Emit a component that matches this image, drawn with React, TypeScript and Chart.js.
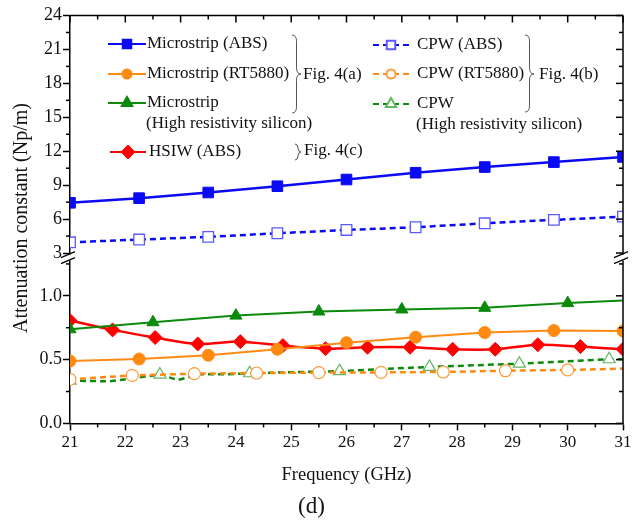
import React, { useEffect, useRef } from 'react';
import { Chart, registerables } from 'chart.js';
import { drawPoint } from 'chart.js/helpers';

Chart.register(...registerables);

const FONT = '"Liberation Serif", "Times New Roman", serif';

// ---------- data ----------
const freqMS = [21, 22.25, 23.5, 24.75, 26, 27.25, 28.5, 29.75, 31];
const microstripABS = [7.44, 7.85, 8.35, 8.91, 9.5, 10.1, 10.6, 11.04, 11.5];
const cpwABS = [3.95, 4.19, 4.43, 4.75, 5.04, 5.28, 5.63, 5.93, 6.22];
const microstripRT = [0.489, 0.505, 0.534, 0.581, 0.633, 0.676, 0.712, 0.728, 0.725];

const freqMSHRS = [21, 22.5, 24, 25.5, 27, 28.5, 30, 31];
const microstripHRS = [0.738, 0.793, 0.845, 0.877, 0.893, 0.906, 0.943, 0.963];

const freqHSIW = [21, 21.77, 22.54, 23.31, 24.08, 24.85, 25.62, 26.38, 27.15, 27.92, 28.69, 29.46, 30.23, 31];
const hsiwABS = [0.806, 0.733, 0.673, 0.623, 0.641, 0.61, 0.586, 0.597, 0.597, 0.581, 0.581, 0.617, 0.602, 0.581];

const freqCPWRT = [21, 22.125, 23.25, 24.375, 25.5, 26.625, 27.75, 28.875, 30, 31];
const cpwRT = [0.345, 0.376, 0.39, 0.395, 0.398, 0.4, 0.403, 0.413, 0.419, 0.43];

const freqCPWHRS = [21, 21.7, 22.25, 22.625, 22.95, 23.35, 23.85, 24.25, 25.875, 27.5, 29.125, 30.75, 31];
const cpwHRS = [0.335, 0.33, 0.36, 0.383, 0.34, 0.385, 0.385, 0.393, 0.41, 0.443, 0.468, 0.503, 0.503];
const cpwHRSMarkerFreq = [21, 22.625, 24.25, 25.875, 27.5, 29.125, 30.75];

const xTickValues = [21, 22, 23, 24, 25, 26, 27, 28, 29, 30, 31];
const topTickValues = [3, 6, 9, 12, 15, 18, 21, 24];
const bottomTickValues = [0, 0.5, 1.0];

const pts = (xs: number[], ys: number[]) => xs.map((x, i) => ({ x, y: ys[i] }));

const BLUE = '#0a0af5';
const BLUE_OPEN = '#5a5aff';
const ORANGE = '#ff8a12';
const ORANGE_OPEN = '#ff9a3a';
const GREEN = '#0b8a0b';
const GREEN_OPEN = '#62b862';
const RED = '#ff0000';

// ---------- decoration plugin (frame, minor ticks, axis break) ----------
const decorPlugin = {
  id: 'decor',
  afterDraw(chart: any) {
    const { ctx, chartArea: a, scales } = chart;
    const xs = scales.x, yt = scales.yTop, yb = scales.yBot;
    const line = (x1: number, y1: number, x2: number, y2: number) => {
      ctx.beginPath(); ctx.moveTo(x1, y1); ctx.lineTo(x2, y2); ctx.stroke();
    };
    ctx.save();
    ctx.strokeStyle = '#000';
    ctx.lineWidth = 1.5;
    line(a.left, a.top, a.right, a.top);
    line(a.right, a.top, a.right, a.bottom);
    for (let k = 0; k <= 20; k++) {
      const v = 21 + k * 0.5;
      const px = xs.getPixelForValue(v);
      const major = k % 2 === 0;
      const L = major ? 7 : 4;
      line(px, a.top, px, a.top + L);
      if (!major) line(px, a.bottom, px, a.bottom + L);
    }
    for (let k = 0; k <= 14; k++) {
      const v = 3 + k * 1.5;
      const py = yt.getPixelForValue(v);
      const major = k % 2 === 0;
      const L = major ? 7 : 4;
      line(a.right, py, a.right - L, py);
      if (!major) line(a.left, py, a.left - L, py);
    }
    for (let k = 0; k <= 5; k++) {
      const v = k * 0.25;
      const py = yb.getPixelForValue(v);
      const major = k % 2 === 0;
      const L = major ? 7 : 4;
      line(a.right, py, a.right - L, py);
      if (!major) line(a.left, py, a.left - L, py);
    }
    const yBreak = yt.bottom;
    for (const ax of [a.left, a.right]) {
      ctx.fillStyle = '#fff';
      ctx.fillRect(ax - 2, yBreak - 3, 4, 6);
      ctx.lineWidth = 1.3;
      line(ax - 9, yBreak + 0, ax + 5, yBreak - 6);
      line(ax - 9, yBreak + 6, ax + 5, yBreak + 0);
    }
    ctx.restore();
  },
};

// ---------- legend plugin ----------
function brace(ctx: CanvasRenderingContext2D, x: number, y0: number, y1: number, ym: number, w: number) {
  const xm = x + w * 0.5;
  const r = Math.min(w * 0.7, (ym - y0) / 2);
  ctx.beginPath();
  ctx.moveTo(x, y0);
  ctx.quadraticCurveTo(xm, y0, xm, y0 + r);
  ctx.lineTo(xm, ym - r);
  ctx.quadraticCurveTo(xm, ym, x + w, ym);
  ctx.quadraticCurveTo(xm, ym, xm, ym + r);
  ctx.lineTo(xm, y1 - r);
  ctx.quadraticCurveTo(xm, y1, x, y1);
  ctx.stroke();
}

const legendRows = [
  { ds: 0, x0: 108, x1: 146, tx: 147, y: 44, lines: ['Microstrip (ABS)'] },
  { ds: 2, x0: 108, x1: 146, tx: 147, y: 74, lines: ['Microstrip (RT5880)'] },
  { ds: 3, x0: 108, x1: 146, tx: 147, y: 103, lines: ['Microstrip', '(High resistivity silicon)'] },
  { ds: 4, x0: 110, x1: 146, tx: 149, y: 152, lines: ['HSIW (ABS)'] },
  { ds: 1, x0: 373, x1: 409, tx: 417, y: 45, lines: ['CPW (ABS)'] },
  { ds: 5, x0: 373, x1: 409, tx: 417, y: 74, lines: ['CPW (RT5880)'] },
  { ds: 6, x0: 373, x1: 409, tx: 417, y: 104, lines: ['CPW', '(High resistivity silicon)'] },
];

const legendMarker: Record<number, number> = { 0: 6, 1: 6, 2: 4.5, 3: 6, 4: 6, 5: 4.5, 6: 6 };

const legendPlugin = {
  id: 'customLegend',
  afterDraw(chart: any) {
    const { ctx } = chart;
    ctx.save();
    ctx.font = `17px ${FONT}`;
    ctx.textBaseline = 'middle';
    ctx.textAlign = 'left';
    for (const row of legendRows) {
      const ds = chart.data.datasets[row.ds];
      ctx.strokeStyle = ds.borderColor;
      ctx.lineWidth = 2;
      ctx.setLineDash(ds.borderDash || []);
      ctx.beginPath();
      ctx.moveTo(row.x0, row.y);
      ctx.lineTo(row.x1, row.y);
      ctx.stroke();
      ctx.setLineDash([]);
      ctx.fillStyle = ds.pointBackgroundColor;
      ctx.strokeStyle = ds.pointBorderColor;
      drawPoint(ctx, { pointStyle: ds.pointStyle, rotation: 0, radius: legendMarker[row.ds], borderWidth: 1.2 } as any, (row.x0 + row.x1) / 2, row.y);
      ctx.fillStyle = '#111';
      row.lines.forEach((t, i) => ctx.fillText(t, i === 0 ? row.tx : row.tx - 1, row.y + i * 21));
    }
    ctx.strokeStyle = '#555';
    ctx.lineWidth = 1;
    brace(ctx, 292, 35, 113, 74, 9);
    brace(ctx, 295, 144, 160, 152, 6);
    brace(ctx, 525, 35, 112, 74, 9);
    ctx.fillStyle = '#111';
    ctx.fillText('Fig. 4(a)', 303, 75);
    ctx.fillText('Fig. 4(c)', 304, 151);
    ctx.fillText('Fig. 4(b)', 539, 75);
    ctx.translate(22, 218);
    ctx.rotate(-Math.PI / 2);
    ctx.textAlign = 'center';
    ctx.font = `20px ${FONT}`;
    ctx.fillText('Attenuation constant (Np/m)', 0, 0);
    ctx.restore();
  },
};

export default function App() {
  const ref = useRef<HTMLCanvasElement | null>(null);

  useEffect(() => {
    if (!ref.current) return;
    Chart.defaults.font.family = FONT;
    Chart.defaults.color = '#111';

    const hrsMarker = (c: any) => (cpwHRSMarkerFreq.includes(c.raw?.x) ? 7 : 0);
    const lastNoMarker = (r: number, n: number) => (c: any) => (c.dataIndex === n - 1 ? 0 : r);

    const chart = new Chart(ref.current, {
      type: 'line',
      data: {
        datasets: [
          {
            label: 'Microstrip (ABS)', data: pts(freqMS, microstripABS), yAxisID: 'yTop',
            borderColor: BLUE, borderWidth: 2.5, pointStyle: 'rect', pointRadius: 7.5,
            pointBackgroundColor: BLUE, pointBorderColor: BLUE, pointBorderWidth: 1,
          },
          {
            label: 'CPW (ABS)', data: pts(freqMS, cpwABS), yAxisID: 'yTop',
            borderColor: BLUE, borderWidth: 2.5, borderDash: [6, 4], pointStyle: 'rect', pointRadius: 7.5,
            pointBackgroundColor: '#fff', pointBorderColor: BLUE_OPEN, pointBorderWidth: 1.3,
          },
          {
            label: 'Microstrip (RT5880)', data: pts(freqMS, microstripRT), yAxisID: 'yBot',
            borderColor: ORANGE, borderWidth: 2, pointStyle: 'circle', pointRadius: 6,
            pointBackgroundColor: ORANGE, pointBorderColor: ORANGE, pointBorderWidth: 1,
          },
          {
            label: 'Microstrip (High resistivity silicon)', data: pts(freqMSHRS, microstripHRS), yAxisID: 'yBot',
            borderColor: GREEN, borderWidth: 2, pointStyle: 'triangle', pointRadius: lastNoMarker(7, freqMSHRS.length),
            pointBackgroundColor: GREEN, pointBorderColor: GREEN, pointBorderWidth: 1,
          },
          {
            label: 'HSIW (ABS)', data: pts(freqHSIW, hsiwABS), yAxisID: 'yBot',
            borderColor: RED, borderWidth: 2.5, tension: 0.3, pointStyle: 'rectRot', pointRadius: 7,
            pointBackgroundColor: RED, pointBorderColor: RED, pointBorderWidth: 1,
          },
          {
            label: 'CPW (RT5880)', data: pts(freqCPWRT, cpwRT), yAxisID: 'yBot',
            borderColor: ORANGE, borderWidth: 2.5, borderDash: [6, 4], pointStyle: 'circle',
            pointRadius: lastNoMarker(6, freqCPWRT.length),
            pointBackgroundColor: '#fff', pointBorderColor: ORANGE_OPEN, pointBorderWidth: 1.2,
          },
          {
            label: 'CPW (High resistivity silicon)', data: pts(freqCPWHRS, cpwHRS), yAxisID: 'yBot',
            borderColor: GREEN, borderWidth: 2.5, borderDash: [6, 4], tension: 0, pointStyle: 'triangle',
            pointRadius: hrsMarker,
            pointBackgroundColor: '#fff', pointBorderColor: GREEN_OPEN, pointBorderWidth: 1.2,
          },
        ] as any,
      },
      options: {
        responsive: false,
        animation: false,
        layout: { padding: { left: 0, right: 20, top: 15.5, bottom: 0 } },
        plugins: {
          legend: { display: false },
          tooltip: { enabled: false },
          title: {
            display: true, text: '(d)', position: 'bottom',
            font: { size: 23, weight: 'normal', family: FONT }, color: '#111',
            padding: { top: 0, bottom: 0 },
          },
        },
        scales: {
          x: {
            type: 'linear', position: 'bottom', min: 21, max: 31,
            afterBuildTicks: (s: any) => { s.ticks = xTickValues.map((v) => ({ value: v })); },
            ticks: { font: { size: 17 }, color: '#111', padding: 2, maxRotation: 0, autoSkip: false },
            grid: { drawOnChartArea: false, drawTicks: true, tickLength: 7, tickColor: '#000', tickWidth: 1.5 },
            border: { color: '#000', width: 1.5 },
            title: { display: true, text: 'Frequency (GHz)', font: { size: 18.5 }, color: '#111', padding: { top: 0, bottom: 7 } },
            afterFit: (s: any) => { s.height = 70; },
          },
          yTop: {
            type: 'linear', position: 'left', stack: 'left', stackWeight: 242, weight: 2,
            min: 2.6, max: 24,
            afterBuildTicks: (s: any) => { s.ticks = topTickValues.map((v) => ({ value: v })); },
            ticks: { font: { size: 18 }, color: '#111', padding: 1, autoSkip: false, callback: (v: any) => String(v) },
            grid: { drawOnChartArea: false, drawTicks: true, tickLength: 7, tickColor: '#000', tickWidth: 1.5 },
            border: { color: '#000', width: 1.5 },
            afterFit: (s: any) => { s.width = 70; },
          },
          yBot: {
            type: 'linear', position: 'left', stack: 'left', stackWeight: 165.8, weight: 1,
            min: 0, max: 1.3,
            afterBuildTicks: (s: any) => { s.ticks = bottomTickValues.map((v) => ({ value: v })); },
            ticks: { font: { size: 18 }, color: '#111', padding: 1, autoSkip: false, callback: (v: any) => Number(v).toFixed(1) },
            grid: { drawOnChartArea: false, drawTicks: true, tickLength: 7, tickColor: '#000', tickWidth: 1.5 },
            border: { color: '#000', width: 1.5 },
            afterFit: (s: any) => { s.width = 70; },
          },
        },
      } as any,
      plugins: [decorPlugin, legendPlugin],
    });
    return () => chart.destroy();
  }, []);

  return (
    <div style={{ position: 'absolute', left: 0, top: 0, width: 643, height: 521, background: '#fff' }}>
      <canvas ref={ref} width={643} height={521} />
    </div>
  );
}
